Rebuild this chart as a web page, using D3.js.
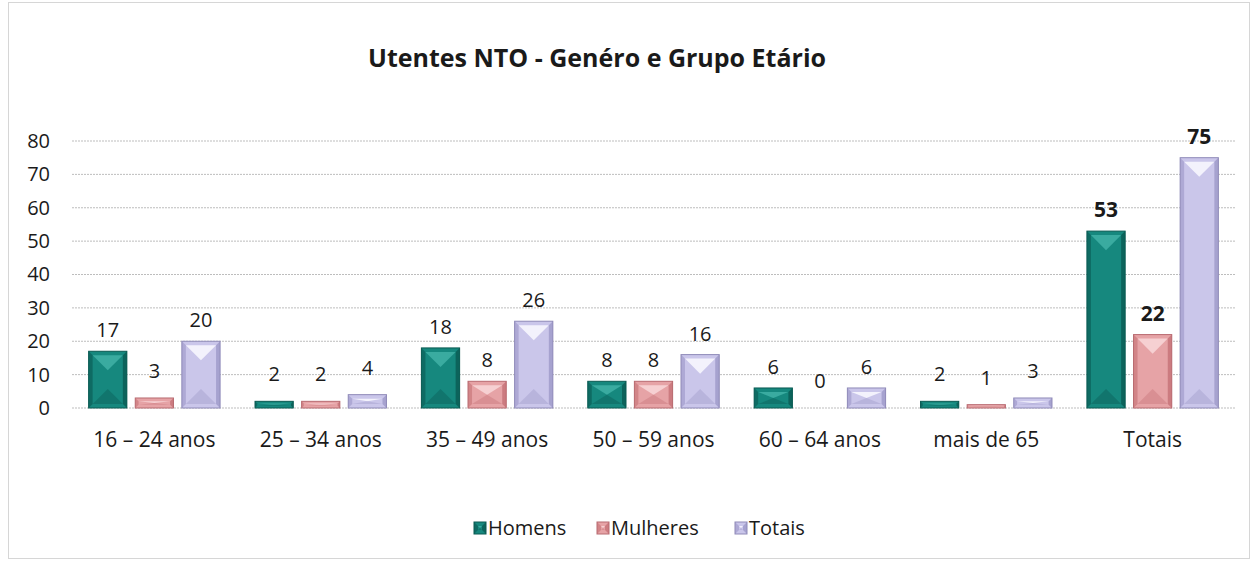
<!DOCTYPE html>
<html>
<head>
<meta charset="utf-8">
<script src="https://cdn.jsdelivr.net/npm/d3@7"></script>
<style>
  body { margin: 0; background: #fff; }
  svg text { font-family: 'Open Sans', 'Lato', sans-serif; fill: #1a1a1a; }
</style>
</head>
<body>
<div id="chart"></div>
<script>
// dados do gráfico
var categorias = ['16 – 24 anos', '25 – 34 anos', '35 – 49 anos', '50 – 59 anos', '60 – 64 anos', 'mais de 65', 'Totais']
var homens = [17, 2, 18, 8, 6, 2, 53]
var mulheres = [3, 2, 8, 8, 0, 1, 22]
var totais = [20, 4, 26, 16, 6, 3, 75]
var series = ['Homens', 'Mulheres', 'Totais']
var yTicks = [0, 10, 20, 30, 40, 50, 60, 70, 80]

var W = 1253
var H = 562
var margin = {top: 141, right: 18, bottom: 154, left: 72}
var cores = {
  Homens: {base: '#16887e', light: '#3aaba0', dark: '#0b5f58', edge: '#0a5a52'},
  Mulheres: {base: '#e6a3a6', light: '#f6d0d2', dark: '#c9777c', edge: '#b86a70'},
  Totais: {base: '#cac6ea', light: '#f3f2fc', dark: '#a29dcc', edge: '#8f8ab8'}
}

var paper = d3.select('#chart').append('svg')
  .attr('width', W)
  .attr('height', H)

// moldura
paper.append('rect')
  .attr('x', 8.5).attr('y', 2.5)
  .attr('width', W - 12).attr('height', H - 6)
  .attr('fill', '#fff')
  .attr('stroke', '#d6d6d6')

paper.append('text')
  .attr('x', 597).attr('y', 67)
  .attr('text-anchor', 'middle')
  .attr('style', 'font-size: 25px; font-weight: bold')
  .text('Utentes NTO - Genéro e Grupo Etário')

var pw = W - margin.left - margin.right
var ph = H - margin.top - margin.bottom
var chart = paper.append('g')
  .attr('transform', 'translate(' + margin.left + ',' + margin.top + ')')

var x = d3.scaleBand().domain(categorias).range([0, pw]).paddingInner(0.21).paddingOuter(0.1)
var xs = d3.scaleBand().domain(series).range([0, x.bandwidth()]).paddingInner(0.18)
var y = d3.scaleLinear().domain([0, 80]).range([ph, 0])

// grelha
chart.append('g').selectAll('line')
  .data(yTicks)
  .enter().append('line')
  .attr('x1', 0).attr('x2', pw)
  .attr('y1', d => y(d)).attr('y2', d => y(d))
  .attr('stroke', '#bdbdbd')
  .attr('stroke-dasharray', '2,1')

var yAxis = d3.axisLeft(y).tickValues(yTicks).tickSize(0).tickPadding(22)
var axisY = chart.append('g').call(yAxis)
axisY.select('.domain').remove()
axisY.selectAll('text').attr('style', 'font-size: 20px').attr('fill', '#1a1a1a')

var xAxis = d3.axisBottom(x).tickSize(0).tickPadding(24)
var axisX = chart.append('g').attr('transform', 'translate(0,' + ph + ')').call(xAxis)
axisX.select('.domain').remove()
axisX.selectAll('text').attr('style', 'font-size: 21px').attr('fill', '#1a1a1a')

var linhas = []
categorias.forEach(function (c, i) {
  linhas.push({cat: c, serie: 'Homens', v: homens[i]})
  linhas.push({cat: c, serie: 'Mulheres', v: mulheres[i]})
  linhas.push({cat: c, serie: 'Totais', v: totais[i]})
})

// barra com relevo
function bevel (g, x0, y0, w, h, cor) {
  var x1 = x0 + w
  var y1 = y0 + h
  var d = Math.min(w / 2, h / 2)
  var cx = x0 + w / 2
  var inset = Math.min(4, h / 3)
  g.append('rect').attr('x', x0).attr('y', y0).attr('width', w).attr('height', h)
    .attr('fill', cor.base)
  // lados
  g.append('polygon').attr('points', [[x0, y0], [x0 + inset, y0 + inset], [x0 + inset, y1 - inset], [x0, y1]].join(' '))
    .attr('fill', cor.dark).attr('opacity', 0.7)
  g.append('polygon').attr('points', [[x1, y0], [x1 - inset, y0 + inset], [x1 - inset, y1 - inset], [x1, y1]].join(' '))
    .attr('fill', cor.dark).attr('opacity', 0.9)
  // topo
  g.append('polygon').attr('points', [[x0 + inset, y0 + inset], [x1 - inset, y0 + inset], [cx, y0 + d]].join(' '))
    .attr('fill', cor.light)
  // base
  g.append('polygon').attr('points', [[x0 + inset, y1 - inset], [x1 - inset, y1 - inset], [cx, y1 - d]].join(' '))
    .attr('fill', cor.dark).attr('opacity', 0.45)
  g.append('rect').attr('x', x0).attr('y', y0).attr('width', w).attr('height', h)
    .attr('fill', 'none').attr('stroke', cor.edge).attr('stroke-width', 1)
}

var barGroup = chart.append('g')
linhas.forEach(function (d) {
  if (d.v <= 0) return
  var bx = x(d.cat) + xs(d.serie)
  var by = y(d.v)
  bevel(barGroup.append('g'), bx, by, xs.bandwidth(), y(0) - by, cores[d.serie])
})

chart.append('g').selectAll('text')
  .data(linhas)
  .enter().append('text')
  .attr('x', d => x(d.cat) + xs(d.serie) + xs.bandwidth() / 2)
  .attr('y', d => y(d.v) - (d.v < 5 ? 20 : 14))
  .attr('text-anchor', 'middle')
  .attr('style', d => d.cat === 'Totais' ? 'font-size: 21px; font-weight: bold' : 'font-size: 20px')
  .text(d => d.v)

// legenda
var legendX = [474, 597, 735]
var legend = paper.append('g').attr('transform', 'translate(0,528)')
series.forEach(function (s, i) {
  var g = legend.append('g').attr('transform', 'translate(' + legendX[i] + ',0)')
  bevel(g, 0, -6, 12, 12, cores[s])
  g.append('text').attr('x', 14).attr('y', 7)
    .attr('style', 'font-size: 20px')
    .text(s)
})
</script>
</body>
</html>
